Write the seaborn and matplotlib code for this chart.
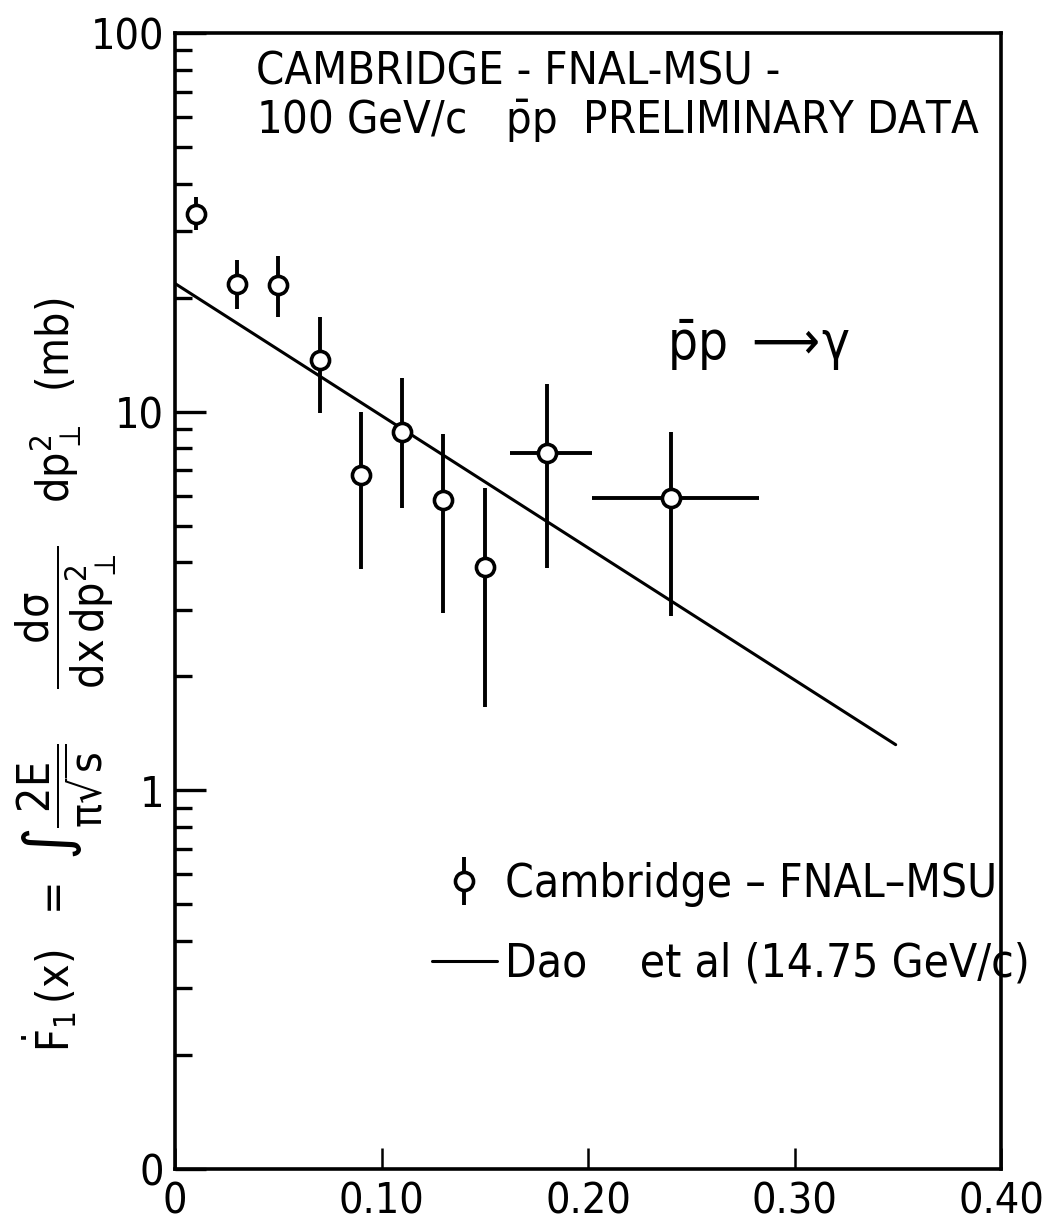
import numpy as np
import pandas as pd
import seaborn as sns
import matplotlib
matplotlib.use("Agg")
import matplotlib.pyplot as plt
from matplotlib.lines import Line2D
from matplotlib.ticker import FixedLocator, FixedFormatter, LogLocator, NullFormatter
from matplotlib.legend_handler import HandlerTuple

# ---- data ----
x_vals = [0.01, 0.03, 0.05, 0.07, 0.09, 0.11, 0.13, 0.15, 0.18, 0.24]
y_vals = [33.2, 21.7, 21.6, 13.7, 6.8, 8.85, 5.85, 3.89, 7.8, 5.9]
y_hi = [36.8, 25.1, 25.7, 17.8, 10.0, 12.3, 8.75, 6.29, 11.8, 8.85]
y_lo = [30.1, 18.7, 17.8, 9.9, 3.84, 5.57, 2.94, 1.66, 3.87, 2.89]
x_lo = [0.01, 0.03, 0.05, 0.07, 0.09, 0.11, 0.13, 0.15, 0.162, 0.202]
x_hi = [0.01, 0.03, 0.05, 0.07, 0.09, 0.11, 0.13, 0.15, 0.202, 0.283]

dao_x = [0.0, 0.349]
dao_y = [21.8, 1.32]

x_ticks = [0.0, 0.10, 0.20, 0.30, 0.40]
x_ticklabels = ["0", "0.10", "0.20", "0.30", "0.40"]
y_ticks = [0.1, 1, 10, 100]
y_ticklabels = ["0", "1", "10", "100"]

title_lines = "CAMBRIDGE - FNAL-MSU -\n100 GeV/c   $\\bar{\\mathrm{p}}\\mathrm{p}$  PRELIMINARY DATA"
reaction = "$\\bar{\\mathrm{p}}\\mathrm{p}\\ \\longrightarrow\\!\\gamma$"
legend_data = "Cambridge – FNAL–MSU"
legend_line = "Dao    et al (14.75 GeV/c)"
ylabel = (r"$\dot{F}_1\,(x)\ \ =\ \int\dfrac{2E}{\pi\sqrt{s}}\ \ \ \ \dfrac{d\sigma}{dx\,dp_\perp^2}\ \ \ dp_\perp^2\ \ (mb)$")

df = pd.DataFrame({"x": x_vals, "y": y_vals})
line_df = pd.DataFrame({"x": dao_x, "y": dao_y})

sns.set_style("ticks")
FONT = "DejaVu Sans"
plt.rcParams["font.family"] = [FONT]
plt.rcParams["font.stretch"] = "condensed"
plt.rcParams["mathtext.fontset"] = "dejavusans"
plt.rcParams["mathtext.default"] = "regular"
for k in ["text.color", "axes.labelcolor", "xtick.color", "ytick.color", "axes.edgecolor"]:
    plt.rcParams[k] = "black"

fig = plt.figure(figsize=(10.58, 12.31), dpi=100)
ax = fig.add_axes([175 / 1058, 1 - 1169 / 1231, (1001 - 175) / 1058, (1169 - 33) / 1231])

# error bars
yerr = np.array([np.array(y_vals) - np.array(y_lo), np.array(y_hi) - np.array(y_vals)])
xerr = np.array([np.array(x_vals) - np.array(x_lo), np.array(x_hi) - np.array(x_vals)])
ax.errorbar(x_vals, y_vals, yerr=yerr, xerr=xerr, fmt="none", ecolor="black",
            elinewidth=2.8, capsize=0, zorder=2)

# Dao line
sns.lineplot(data=line_df, x="x", y="y", ax=ax, color="black", linewidth=2.2, zorder=3)

# points
sns.scatterplot(data=df, x="x", y="y", ax=ax, marker="o", s=170, facecolor="white",
                edgecolor="black", linewidth=2.6, zorder=4)

ax.set_yscale("log")
ax.set_xlim(0, 0.40)
ax.set_ylim(0.1, 100)

ax.xaxis.set_major_locator(FixedLocator(x_ticks))
ax.xaxis.set_major_formatter(FixedFormatter(x_ticklabels))
ax.yaxis.set_major_locator(FixedLocator(y_ticks))
ax.yaxis.set_major_formatter(FixedFormatter(y_ticklabels))
ax.yaxis.set_minor_locator(LogLocator(base=10, subs=np.arange(2, 10), numticks=20))
ax.yaxis.set_minor_formatter(NullFormatter())

ax.tick_params(axis="y", which="major", direction="in", length=22, width=2.4,
               labelsize=31, pad=8, left=True, right=False)
ax.tick_params(axis="y", which="minor", direction="in", length=12, width=2.4,
               left=True, right=False)
ax.tick_params(axis="x", which="major", direction="in", length=15, width=1.8,
               labelsize=31, pad=8, top=False, bottom=True)
ax.tick_params(axis="x", which="minor", bottom=False, top=False)

for sp in ax.spines.values():
    sp.set_linewidth(2.6)
    sp.set_color("black")
    sp.set_visible(True)

ax.set_xlabel("")
ax.set_ylabel(ylabel, fontsize=32)
ax.yaxis.set_label_coords(-0.068, 0.435)

ax.text(0.098, 0.985, title_lines, transform=ax.transAxes, fontsize=32.5,
        ha="left", va="top", linespacing=1.15)
ax.text(0.596, 0.725, reaction, transform=ax.transAxes, fontsize=38,
        ha="left", va="center")

# legend
bar_h = Line2D([], [], marker="|", markersize=34, markeredgewidth=2.8, color="black", ls="none")
circ_h = Line2D([], [], marker="o", markersize=13, markerfacecolor="white",
                markeredgecolor="black", markeredgewidth=2.6, ls="none")
line_h = Line2D([], [], color="black", linewidth=2.2)
ax.legend([(bar_h, circ_h), line_h], [legend_data, legend_line],
          handler_map={tuple: HandlerTuple(ndivide=1)},
          loc="upper left", bbox_to_anchor=(0.311, 0.27), frameon=False,
          fontsize=33, handlelength=1.42, handletextpad=0.18, labelspacing=0.75,
          borderpad=0, borderaxespad=0)

fig.savefig("out.png", dpi=100, facecolor="white")
